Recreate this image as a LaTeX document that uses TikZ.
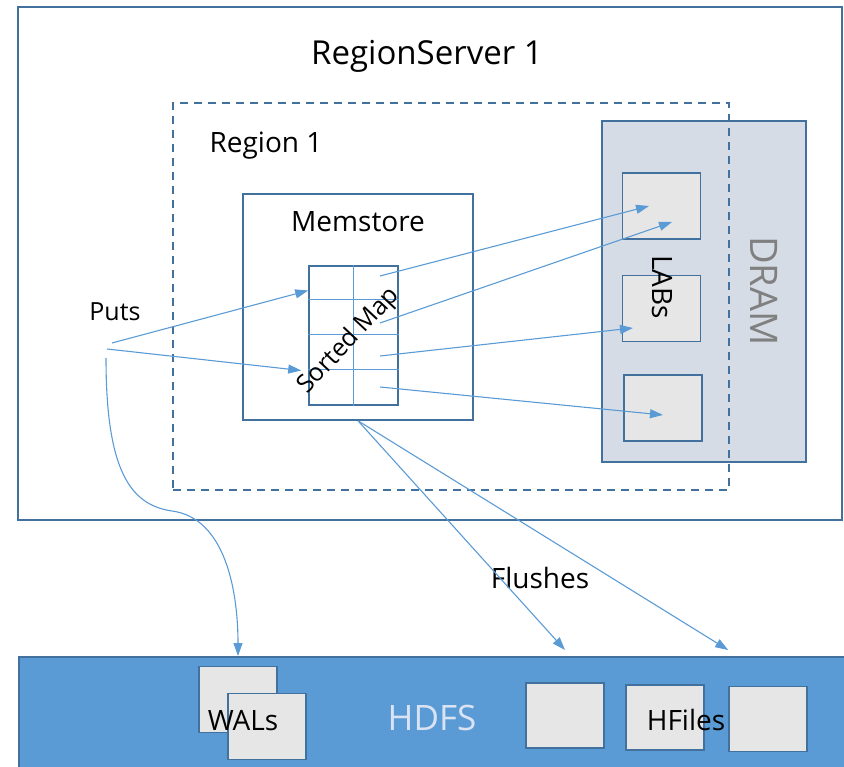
\documentclass[tikz,border=0pt]{standalone}
\usepackage{fontspec}
\setmainfont{Open Sans}
\usetikzlibrary{arrows.meta,positioning,calc}
\definecolor{borde}{HTML}{41719C}
\definecolor{flecha}{HTML}{5B9BD5}
\definecolor{dram}{HTML}{D6DCE5}
\definecolor{celda}{HTML}{E7E6E6}
\definecolor{hdfstxt}{HTML}{DAE3F3}
\tikzset{
  box/.style={draw=borde,line width=1.6pt,inner sep=0pt},
  slot/.style={box,fill=celda,minimum width=78pt,minimum height=66pt},
  lbl/.style={font=\fontsize{28}{32}\selectfont,inner sep=0pt},
  flow/.style={flecha,line width=1.1pt,-{Triangle[length=13pt,width=9pt]}}
}
\begin{document}
\begin{tikzpicture}[x=1pt,y=-1pt]
\useasboundingbox (0,0) rectangle (844,767);
    %Servidor
    \node[box,minimum width=824pt,minimum height=513pt] (rs) at (430,263.5) {};
    \node[lbl,font=\fontsize{33}{36}\selectfont,anchor=base] (rstxt) at (427,65) {RegionServer 1};

    %DRAM y LABs
    \node[box,fill=dram,minimum width=204pt,minimum height=341pt] (dram) at (704,291.5) {};
    \node[lbl,font=\fontsize{38}{40}\selectfont,text=gray,rotate=-90] (dramtxt) at (764,291) {DRAM};
    \node[slot] (lab1) at (661.5,206) {};
    \node[slot] (lab2) at (661.5,308.5) {};
    \node[slot] (lab3) at (663,408) {};
    \node[lbl,rotate=-90] (labtxt) at (662,287) {LABs};

    %Region
    \node[box,dash pattern=on 8pt off 6pt,minimum width=556pt,minimum height=387pt] (reg) at (451,296.5) {};
    \node[lbl,anchor=base] (regtxt) at (266,153) {Region 1};

    %Memstore
    \node[box,minimum width=230pt,minimum height=226pt] (mem) at (358,307) {};
    \node[lbl,anchor=base] (memtxt) at (358,232) {Memstore};
    \node[box,minimum width=89pt,minimum height=139pt] (map) at (353.5,335.5) {};
    \foreach \f in {0.24,0.49,0.74}{
        \draw[flecha,line width=0.8pt] ($(map.north west)!\f!(map.south west)$) -- ($(map.north east)!\f!(map.south east)$);
    }
    \draw[flecha,line width=0.8pt] (map.north) -- (map.south);
    \node[lbl,font=\fontsize{25}{30}\selectfont,rotate=47] (maptxt) at (349,341) {Sorted Map};

    %HDFS
    \node[box,fill=flecha,minimum width=828pt,minimum height=115pt,anchor=north west] (hdfs) at (18,656) {};
    \node[lbl,font=\fontsize{35}{38}\selectfont,text=hdfstxt,anchor=base] (hdfstxt) at (432,730) {HDFS};
    \node[slot] (wal1) at (238,699.5) {};
    \node[slot] (wal2) at (267,726.5) {};
    \node[lbl,anchor=base] (waltxt) at (243,730) {WALs};
    \node[slot,minimum height=65pt] (hf1) at (565,715.5) {};
    \node[slot,minimum height=65pt] (hf2) at (665,717.5) {};
    \node[slot,minimum height=65pt] (hf3) at (768,719) {};
    \node[lbl,anchor=base] (hftxt) at (686,730) {HFiles};

    %Escrituras
    \node[lbl,font=\fontsize{25}{30}\selectfont,anchor=base] (putstxt) at (115,321) {Puts};
    \coordinate (in1) at (112,343);
    \coordinate (in2) at (107,349);
    \coordinate (in3) at (106,358);
    \draw[flow] (in1) -- ([yshift=45pt]map.west);
    \draw[flow] (in2) -- ([xshift=-7pt,yshift=-35pt]map.west);
    \draw[flow] (in3) .. controls (106,470) and (130,505) .. (172,511)
        .. controls (225,518) and (238,590) .. (wal1 |- hdfs.north);

    %Hacia los LABs
    \draw[flow] ([xshift=26.5pt,yshift=59.5pt]map.center) -- ([xshift=-12.5pt]lab1.center);
    \draw[flow] ([xshift=26.5pt,yshift=12.5pt]map.center) -- ([xshift=10.5pt,yshift=-16pt]lab1.center);
    \draw[flow] ([xshift=26.5pt,yshift=-20.5pt]map.center) -- ([xshift=-28.5pt,yshift=-19.5pt]lab2.center);
    \draw[flow] ([xshift=26.5pt,yshift=-51.5pt]map.center) -- ([yshift=-7pt]lab3.center);

    %Volcados
    \node[lbl,anchor=base] (flushtxt) at (540,588) {Flushes};
    \draw[flow] (mem.south) -- ([yshift=6pt]hdfs.north -| hf1);
    \draw[flow] (mem.south) -- ([yshift=6pt]hdfs.north -| hf3.west);
\end{tikzpicture}
\end{document}
